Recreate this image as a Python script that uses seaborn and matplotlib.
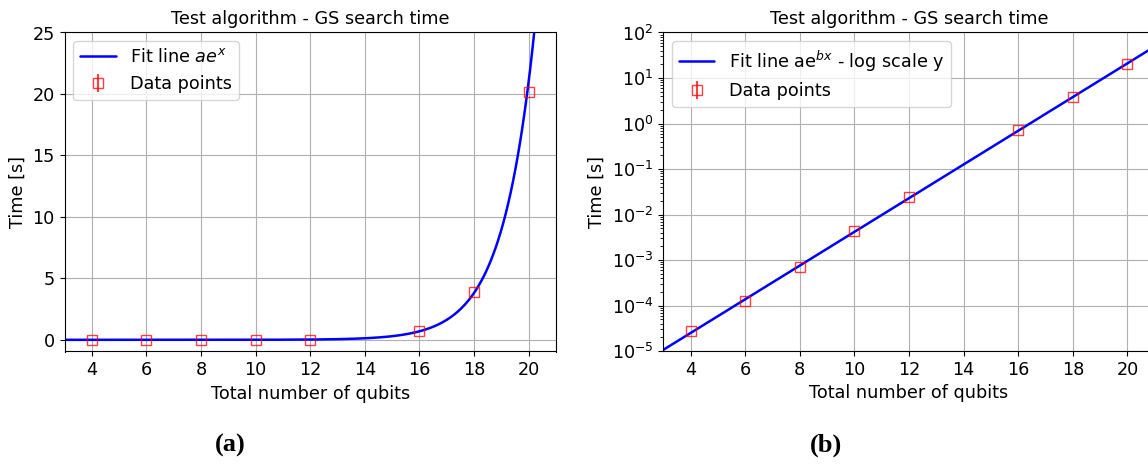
import numpy as np
import pandas as pd
import matplotlib
matplotlib.use("Agg")
import matplotlib.pyplot as plt
import seaborn as sns

# Data
qubits = [4, 6, 8, 10, 12, 16, 18, 20]
times = [2.7e-5, 1.25e-4, 7.0e-4, 4.3e-3, 2.4e-2, 0.72, 3.85, 20.2]
time_err = [0, 0, 0, 0, 0, 0, 0, 0]

title = "Test algorithm - GS search time"
xlabel = "Total number of qubits"
ylabel = "Time [s]"
xticks = [4, 6, 8, 10, 12, 14, 16, 18, 20]

# Exponential fit a*exp(b*x) derived from the data
b_fit, loga = np.polyfit(qubits, np.log(times), 1)
a_fit = np.exp(loga)
x_fit = np.linspace(3, 21, 400)
fit_df = pd.DataFrame({"x": x_fit, "y": a_fit * np.exp(b_fit * x_fit)})

sns.set_style("white")
plt.rcParams['font.family'] = ['DejaVu Sans']
FS = 12.7
plt.rcParams.update({
    'font.size': FS,
    'text.color': 'black',
    'axes.labelcolor': 'black',
    'xtick.color': 'black',
    'ytick.color': 'black',
})

W, H = 1148, 465
fig = plt.figure(figsize=(W / 100, H / 100), dpi=100)

axL = fig.add_axes([64.5 / W, 1 - 351.5 / H, (556 - 64.5) / W, (351.5 - 32.5) / H])
axR = fig.add_axes([663.3 / W, 1 - 351 / H, (556 - 64.5) / W, (351 - 32.5) / H])

for ax, lab in [(axL, "Fit line $ae^x$"), (axR, "Fit line ae$^{bx}$ - log scale y")]:
    sns.lineplot(data=fit_df, x="x", y="y", ax=ax, color="blue", lw=1.8, label=lab)
    ax.errorbar(qubits, times, yerr=time_err, fmt="s", mfc="none", mec="red",
                ecolor="red", ms=7.5, mew=1.0, alpha=0.75, label="Data points")
    ax.set_xlim(3, 21)
    ax.set_xticks(xticks)
    ax.set_title(title, fontsize=FS)
    ax.set_xlabel(xlabel, fontsize=FS)
    ax.set_ylabel(ylabel, fontsize=FS)
    ax.grid(True, which="major", color="#b0b0b0", lw=0.8)
    ax.set_axisbelow(True)
    ax.tick_params(axis="both", which="major", direction="out", length=3.5, width=0.8,
                   labelsize=FS, bottom=True, left=True, color="black")
    for s in ax.spines.values():
        s.set_color("black")
        s.set_linewidth(0.8)
    ax.legend(loc="upper left", fontsize=FS, framealpha=0.8, edgecolor="#cccccc",
              fancybox=True)

axL.set_ylim(-0.95, 25)
axL.set_yticks([0, 5, 10, 15, 20, 25])

axR.set_yscale("log")
axR.set_ylim(1e-5, 1e2)
axR.yaxis.set_major_locator(matplotlib.ticker.LogLocator(base=10, numticks=20))
axR.yaxis.set_minor_locator(matplotlib.ticker.LogLocator(base=10, subs=np.arange(2, 10), numticks=20))
axR.tick_params(axis="y", which="minor", direction="out", length=2, width=0.6, left=True)

fig.text(230 / W, 1 - 445 / H, "(a)", fontsize=19, fontweight="bold",
         family="Liberation Serif", ha="center", va="center")
fig.text(826 / W, 1 - 445 / H, "(b)", fontsize=19, fontweight="bold",
         family="Liberation Serif", ha="center", va="center")

fig.savefig("out.png", dpi=100)
